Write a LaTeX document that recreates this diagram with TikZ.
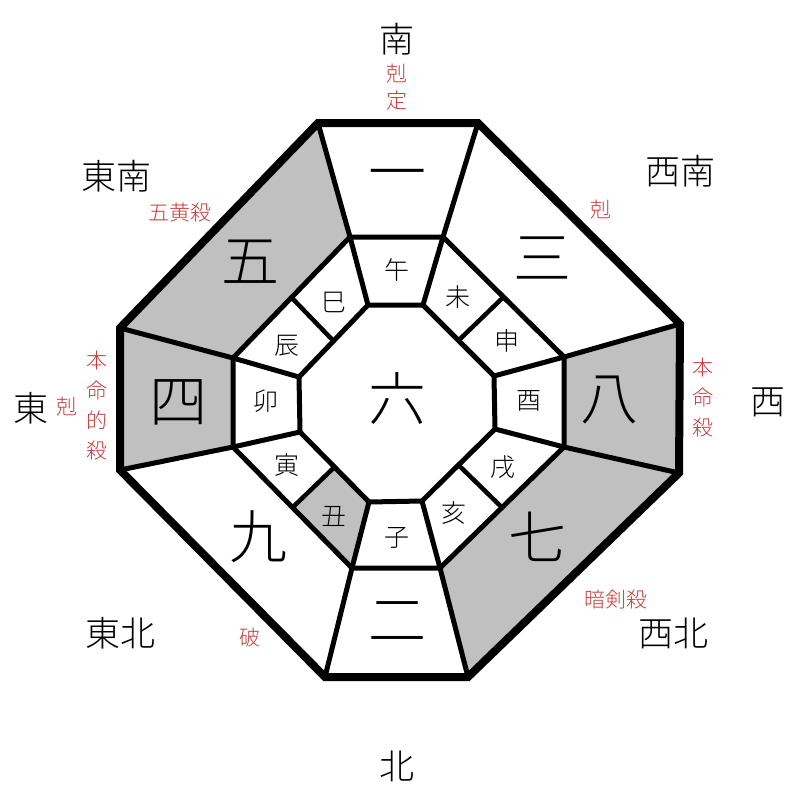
\documentclass[tikz,border=0pt]{standalone}
\usepackage{fontspec}
\newfontfamily\cjk{Noto Sans CJK JP Light}
\usetikzlibrary{calc}
\definecolor{shadegray}{RGB}{192,192,192}
\definecolor{notered}{RGB}{200,60,60}
\tikzset{
  outerline/.style={line width=8pt, line join=miter},
  cellline/.style={line width=5pt, line join=miter},
  subline/.style={line width=4.5pt},
  shaded/.style={fill=shadegray},
  bignum/.style={font=\cjk\fontsize{58}{58}\selectfont, inner sep=0},
  branch/.style={font=\cjk\fontsize{25}{25}\selectfont, inner sep=0},
  dirlabel/.style={font=\cjk\fontsize{35}{35}\selectfont, inner sep=0},
  note/.style={text=notered, font=\cjk\fontsize{21}{30}\selectfont, align=center, inner sep=0},
  notetight/.style={text=notered, font=\cjk\fontsize{21}{27}\selectfont, align=center, inner sep=0}
}
\begin{document}
\begin{tikzpicture}[x=1pt,y=-1pt]
\useasboundingbox (0,0) rectangle (800,800);
% outer octagon
\coordinate (A) at (318,123);
\coordinate (B) at (478,123);
\coordinate (C) at (680,324);
\coordinate (D) at (679,473);
\coordinate (E) at (468,677);
\coordinate (F) at (325,677);
\coordinate (G) at (120,470);
\coordinate (H) at (120,328);
% middle octagon
\coordinate (a) at (350,237);
\coordinate (b) at (443,237);
\coordinate (c) at (564,357);
\coordinate (d) at (564,447);
\coordinate (e) at (440,568);
\coordinate (f) at (352,568);
\coordinate (g) at (233,447);
\coordinate (h) at (233,358);
% inner octagon
\coordinate (ia) at (368,305);
\coordinate (ib) at (423,305);
\coordinate (ic) at (494,376);
\coordinate (id) at (495,429);
\coordinate (ie) at (422,501);
\coordinate (if) at (369,502);
\coordinate (ig) at (300,432);
\coordinate (ih) at (299,377);
% branch split points
\coordinate (mha) at ($(h)!0.5!(a)$);
\coordinate (imha) at ($(ih)!0.5!(ia)$);
\coordinate (mbc) at ($(b)!0.5!(c)$);
\coordinate (imbc) at ($(ib)!0.5!(ic)$);
\coordinate (mde) at ($(d)!0.5!(e)$);
\coordinate (imde) at ($(id)!0.5!(ie)$);
\coordinate (mfg) at ($(f)!0.5!(g)$);
\coordinate (imfg) at ($(if)!0.5!(ig)$);
% shaded sectors
\fill[shaded] (A) -- (a) -- (h) -- (H) -- cycle;
\fill[shaded] (H) -- (h) -- (g) -- (G) -- cycle;
\fill[shaded] (C) -- (D) -- (d) -- (c) -- cycle;
\fill[shaded] (D) -- (E) -- (e) -- (d) -- cycle;
\fill[shaded] (mfg) -- (f) -- (if) -- (imfg) -- cycle;
% cell lines
\draw[cellline] (a) -- (b) -- (c) -- (d) -- (e) -- (f) -- (g) -- (h) -- cycle;
\draw[cellline] (ia) -- (ib) -- (ic) -- (id) -- (ie) -- (if) -- (ig) -- (ih) -- cycle;
\draw[cellline] (A) -- (a) (B) -- (b) (C) -- (c) (D) -- (d) (E) -- (e) (F) -- (f) (G) -- (g) (H) -- (h);
\draw[cellline] (a) -- (ia) (b) -- (ib) (c) -- (ic) (d) -- (id) (e) -- (ie) (f) -- (if) (g) -- (ig) (h) -- (ih);
\draw[subline] (mha) -- (imha) (mbc) -- (imbc) (mde) -- (imde) (mfg) -- (imfg);
% outer border
\draw[outerline] (A) -- (B) -- (C) -- (D) -- (E) -- (F) -- (G) -- (H) -- cycle;
% big numerals
\node[bignum] (n1) at (397,181) {一};
\node[bignum] (n3) at (542,258) {三};
\node[bignum] (n8) at (609,400) {八};
\node[bignum] (n7) at (537,537) {七};
\node[bignum] (n2) at (397,622) {二};
\node[bignum] (n9) at (258,537) {九};
\node[bignum] (n4) at (178,402) {四};
\node[bignum] (n5) at (250,262) {五};
\node[bignum] (n6) at (397,398) {六};
% branches
\node[branch] (wu) at (397,270) {午};
\node[branch] (wei) at (458,297) {未};
\node[branch] (shen) at (507,341) {申};
\node[branch] (you) at (529,401) {酉};
\node[branch] (xu) at (503,467) {戌};
\node[branch] (hai) at (454,513) {亥};
\node[branch] (zi) at (397,538) {子};
\node[branch] (chou) at (334,516) {丑};
\node[branch] (yin) at (287,465) {寅};
\node[branch] (mao) at (266,401) {卯};
\node[branch] (chen) at (287,346) {辰};
\node[branch] (si) at (334,302) {巳};
% directions
\node[dirlabel] (south) at (397,39) {南};
\node[dirlabel] (southeast) at (116,176) {東南};
\node[dirlabel] (southwest) at (680,171) {西南};
\node[dirlabel] (east) at (31,408) {東};
\node[dirlabel] (west) at (768,402) {西};
\node[dirlabel] (northeast) at (120,633) {東北};
\node[dirlabel] (northwest) at (673,633) {西北};
\node[dirlabel] (north) at (397,766) {北};
% red notes
\node[notetight] (nsouth) at (397,87) {剋\\定};
\node[note] (nse) at (180,213) {五黄殺};
\node[note] (nsw) at (601,210) {剋};
\node[note] (neast1) at (67,407) {剋};
\node[note] (neast2) at (97,406) {本\\命\\的\\殺};
\node[note] (nwest) at (703,398) {本\\命\\殺};
\node[note] (nne) at (250,638) {破};
\node[note] (nnw) at (616,600) {暗剣殺};
\end{tikzpicture}
\end{document}
